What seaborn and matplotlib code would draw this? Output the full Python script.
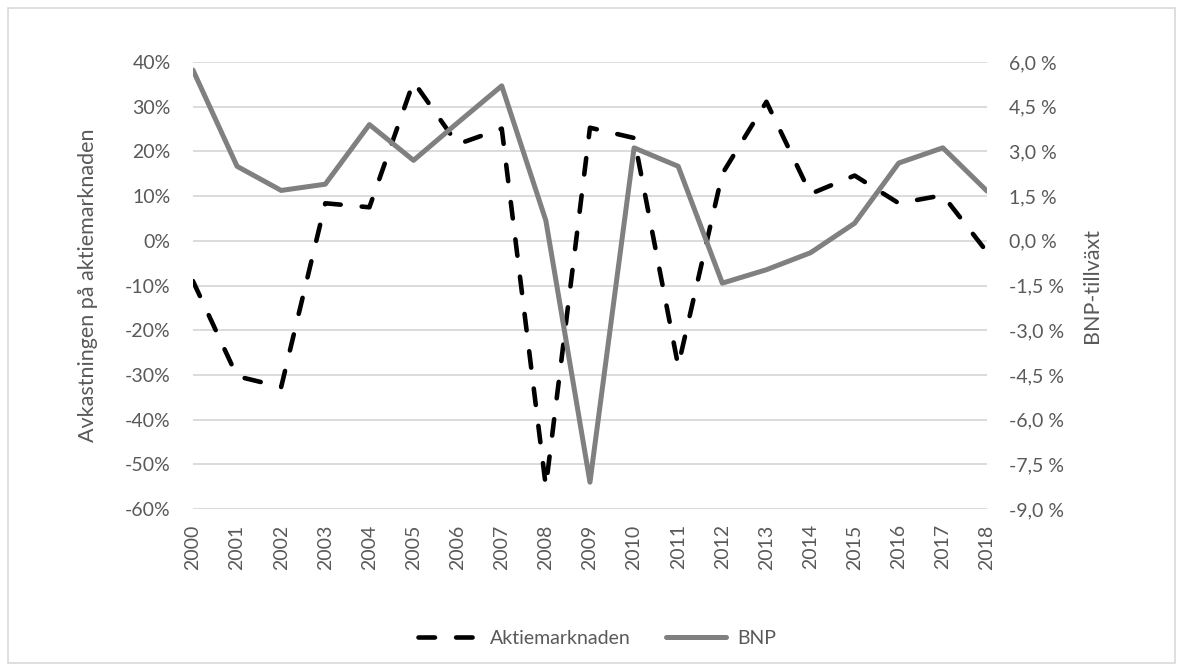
"""
Aktiemarknaden vs BNP-tillväxt, 2000-2018 — två y-axlar.
"""

import numpy as np
import pandas as pd
import matplotlib
matplotlib.use("Agg")
import matplotlib.pyplot as plt
from matplotlib.lines import Line2D
from matplotlib.patches import Rectangle
from matplotlib.ticker import FuncFormatter, MultipleLocator
import seaborn as sns

# ─── DATA ────────────────────────────────────────────────────────────────────

YEARS = [str(y) for y in range(2000, 2019)]

# Avkastning på aktiemarknaden (%)
AKTIE = [-9.0, -30.3, -32.7, 8.4, 7.5, 35.6, 21.6, 25.1, -55.0, 25.3,
         23.0, -28.0, 15.0, 31.1, 10.5, 14.6, 8.4, 10.2, -2.5]

# BNP-tillväxt (%)
BNP = [5.73, 2.50, 1.69, 1.90, 3.90, 2.70, 3.96, 5.20, 0.68, -8.10,
       3.12, 2.50, -1.42, -0.97, -0.40, 0.59, 2.61, 3.12, 1.67]

# ─── STYLE ───────────────────────────────────────────────────────────────────

TXT = "#595959"
GRID = "#d9d9d9"
DASH = (3.6, 4.6)
sns.set_theme(style="white")
plt.rcParams["font.family"] = ["Lato", "DejaVu Sans"]

df = pd.DataFrame({"x": np.arange(len(YEARS)), "aktie": AKTIE, "bnp": BNP})

fig = plt.figure(figsize=(11.83, 6.71), dpi=100)
ax = fig.add_axes([0.1631, 0.2414, 0.6712, 0.6662])
ax2 = ax.twinx()

# ram runt diagrammet (Excel-stil)
fig.patches.append(Rectangle((0.007, 0.012), 0.986, 0.976, transform=fig.transFigure,
                             fill=False, edgecolor=GRID, linewidth=1.2))

sns.lineplot(data=df, x="x", y="aktie", ax=ax, color="black", linewidth=3.3, zorder=3)
line_a = ax.lines[-1]
line_a.set_dashes(DASH)
line_a.set_dash_capstyle("round")

sns.lineplot(data=df, x="x", y="bnp", ax=ax2, color="#808080", linewidth=3.6, zorder=3)
ax2.lines[-1].set_solid_capstyle("round")

# vänster axel
ax.set_ylim(-60, 40)
ax.yaxis.set_major_locator(MultipleLocator(10))
ax.yaxis.set_major_formatter(FuncFormatter(lambda v, p: f"{v:.0f}%"))
ax.set_ylabel("")

# höger axel
ax2.set_ylim(-9, 6)
ax2.yaxis.set_major_locator(MultipleLocator(1.5))
ax2.yaxis.set_major_formatter(
    FuncFormatter(lambda v, p: f"{v:.1f} %".replace(".", ",").replace("-0,0", "0,0")))
ax2.set_ylabel("")

fig.text(0.0744, 0.5745, "Avkastningen på aktiemarknaden", rotation=90,
         ha="center", va="center", color=TXT, fontsize=15.5)
fig.text(0.923, 0.5745, "BNP-tillväxt", rotation=90,
         ha="center", va="center", color=TXT, fontsize=15.5)

ax.set_xlim(0, len(YEARS) - 1)
ax.set_xticks(df["x"])
ax.set_xticklabels(YEARS, rotation=90)
ax.set_xlabel("")

ax.grid(axis="y", color=GRID, linewidth=1.3)
ax.set_axisbelow(True)
for a in (ax, ax2):
    for s in a.spines.values():
        s.set_visible(False)
    a.tick_params(length=0, colors=TXT, labelsize=14, pad=16)
ax.tick_params(axis="x", pad=11)

handles = [
    Line2D([], [], color="black", linewidth=3.3, dashes=DASH, dash_capstyle="round"),
    Line2D([], [], color="#808080", linewidth=3.6, solid_capstyle="round"),
]
fig.legend(handles, ["Aktiemarknaden", "BNP"], loc="center",
           bbox_to_anchor=(0.505, 0.049), ncol=2, frameon=False,
           fontsize=14, labelcolor=TXT, handlelength=3.1, columnspacing=1.8,
           handletextpad=0.6)

fig.savefig("out.png", dpi=100)
